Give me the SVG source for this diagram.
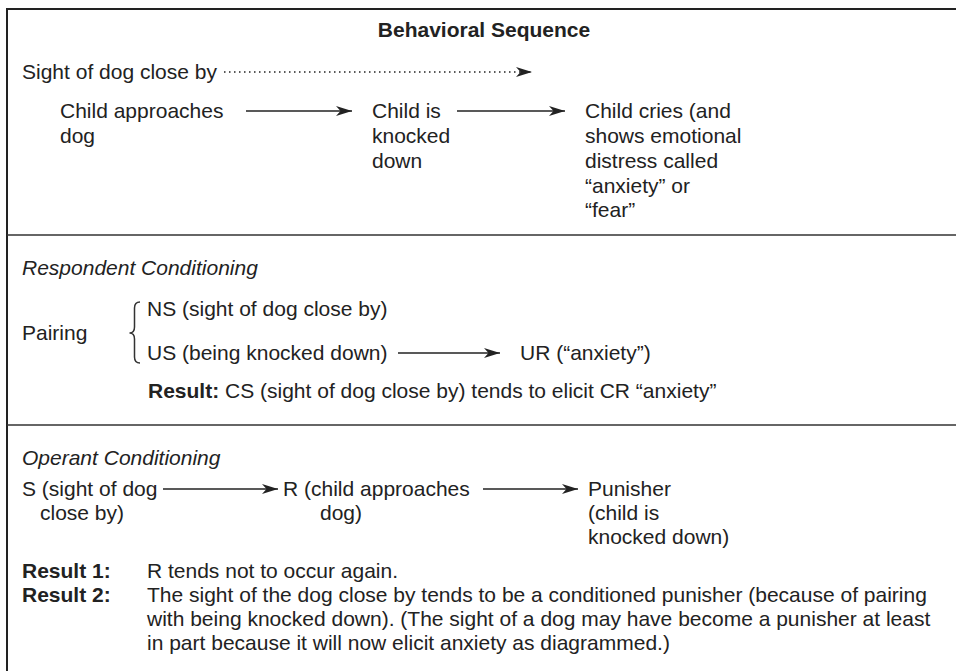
<svg xmlns="http://www.w3.org/2000/svg" width="956" height="671" viewBox="0 0 956 671">
  <style>
    text { font-family: "Liberation Sans", Arial, sans-serif; font-size: 21px; fill: #222; }
    .b { font-weight: bold; }
    .i { font-style: italic; }
    .frame { stroke: #222; stroke-width: 2; fill: none; }
    .rule { stroke: #333; stroke-width: 1.5; fill: none; }
    .arrow { stroke: #222; stroke-width: 1.4; fill: none; marker-end: url(#head); }
    .dotted { stroke-dasharray: 1.5 3.5; stroke-width: 1.6; }
  </style>
  <defs>
    <marker id="head" markerUnits="userSpaceOnUse" markerWidth="17" markerHeight="11" refX="16" refY="5.5" orient="auto">
      <path d="M16,5.5 L0,0.5 L4.5,5.5 L0,10.5 Z" fill="#222"/>
    </marker>
  </defs>

  <rect width="956" height="671" fill="#fff"/>

  <!-- outer frame and section rules -->
  <g id="frame">
    <path class="frame" d="M7,671 L7,9 L956,9"/>
    <line class="rule" x1="7" y1="235" x2="956" y2="235"/>
    <line class="rule" x1="7" y1="425" x2="956" y2="425"/>
  </g>

  <!-- Section 1: behavioral sequence -->
  <g id="title"><text class="b" x="484" y="37" text-anchor="middle">Behavioral Sequence</text></g>
  <g id="sight"><text x="22" y="79">Sight of dog close by</text></g>
  <g id="approach">
    <text x="60" y="118">Child approaches</text>
    <text x="60" y="143">dog</text>
  </g>
  <g id="knocked">
    <text x="372" y="118">Child is</text>
    <text x="372" y="143">knocked</text>
    <text x="372" y="168">down</text>
  </g>
  <g id="cries">
    <text x="585" y="118">Child cries (and</text>
    <text x="585" y="143">shows emotional</text>
    <text x="585" y="168">distress called</text>
    <text x="585" y="193">“anxiety” or</text>
    <text x="585" y="217">“fear”</text>
  </g>

  <!-- Section 2: respondent conditioning -->
  <g id="respondent-title"><text class="i" x="22" y="275">Respondent Conditioning</text></g>
  <g id="pairing">
    <text x="22" y="340">Pairing</text>
    <path class="rule" d="M140,302 Q134.5,302 134.5,308 L134.5,327 Q134.5,333 129.5,333 Q134.5,333 134.5,339 L134.5,357 Q134.5,363 140,363"/>
  </g>
  <g id="ns"><text x="147" y="316">NS (sight of dog close by)</text></g>
  <g id="us"><text x="147" y="360">US (being knocked down)</text></g>
  <g id="ur"><text x="520" y="360">UR (“anxiety”)</text></g>
  <g id="respondent-result"><text x="148" y="398"><tspan class="b">Result:</tspan> CS (sight of dog close by) tends to elicit CR “anxiety”</text></g>

  <!-- Section 3: operant conditioning -->
  <g id="operant-title"><text class="i" x="22" y="465">Operant Conditioning</text></g>
  <g id="s">
    <text x="22" y="496">S (sight of dog</text>
    <text x="40" y="520">close by)</text>
  </g>
  <g id="r">
    <text x="283" y="496">R (child approaches</text>
    <text x="320" y="520">dog)</text>
  </g>
  <g id="punisher">
    <text x="588" y="496">Punisher</text>
    <text x="588" y="520">(child is</text>
    <text x="588" y="544">knocked down)</text>
  </g>
  <g id="operant-results">
    <text class="b" x="22" y="578">Result 1:</text>
    <text x="147" y="578">R tends not to occur again.</text>
    <text class="b" x="22" y="602">Result 2:</text>
    <text x="147" y="602">The sight of the dog close by tends to be a conditioned punisher (because of pairing</text>
    <text x="147" y="626">with being knocked down). (The sight of a dog may have become a punisher at least</text>
    <text x="147" y="650">in part because it will now elicit anxiety as diagrammed.)</text>
  </g>

  <!-- connectors -->
  <g id="connectors">
    <line class="arrow dotted" x1="224" y1="72" x2="532" y2="72"/>
    <line class="arrow" x1="246" y1="111" x2="352" y2="111"/>
    <line class="arrow" x1="457" y1="111" x2="565" y2="111"/>
    <line class="arrow" x1="398" y1="353" x2="500" y2="353"/>
    <line class="arrow" x1="163" y1="489" x2="278" y2="489"/>
    <line class="arrow" x1="483" y1="489" x2="578" y2="489"/>
  </g>
</svg>
